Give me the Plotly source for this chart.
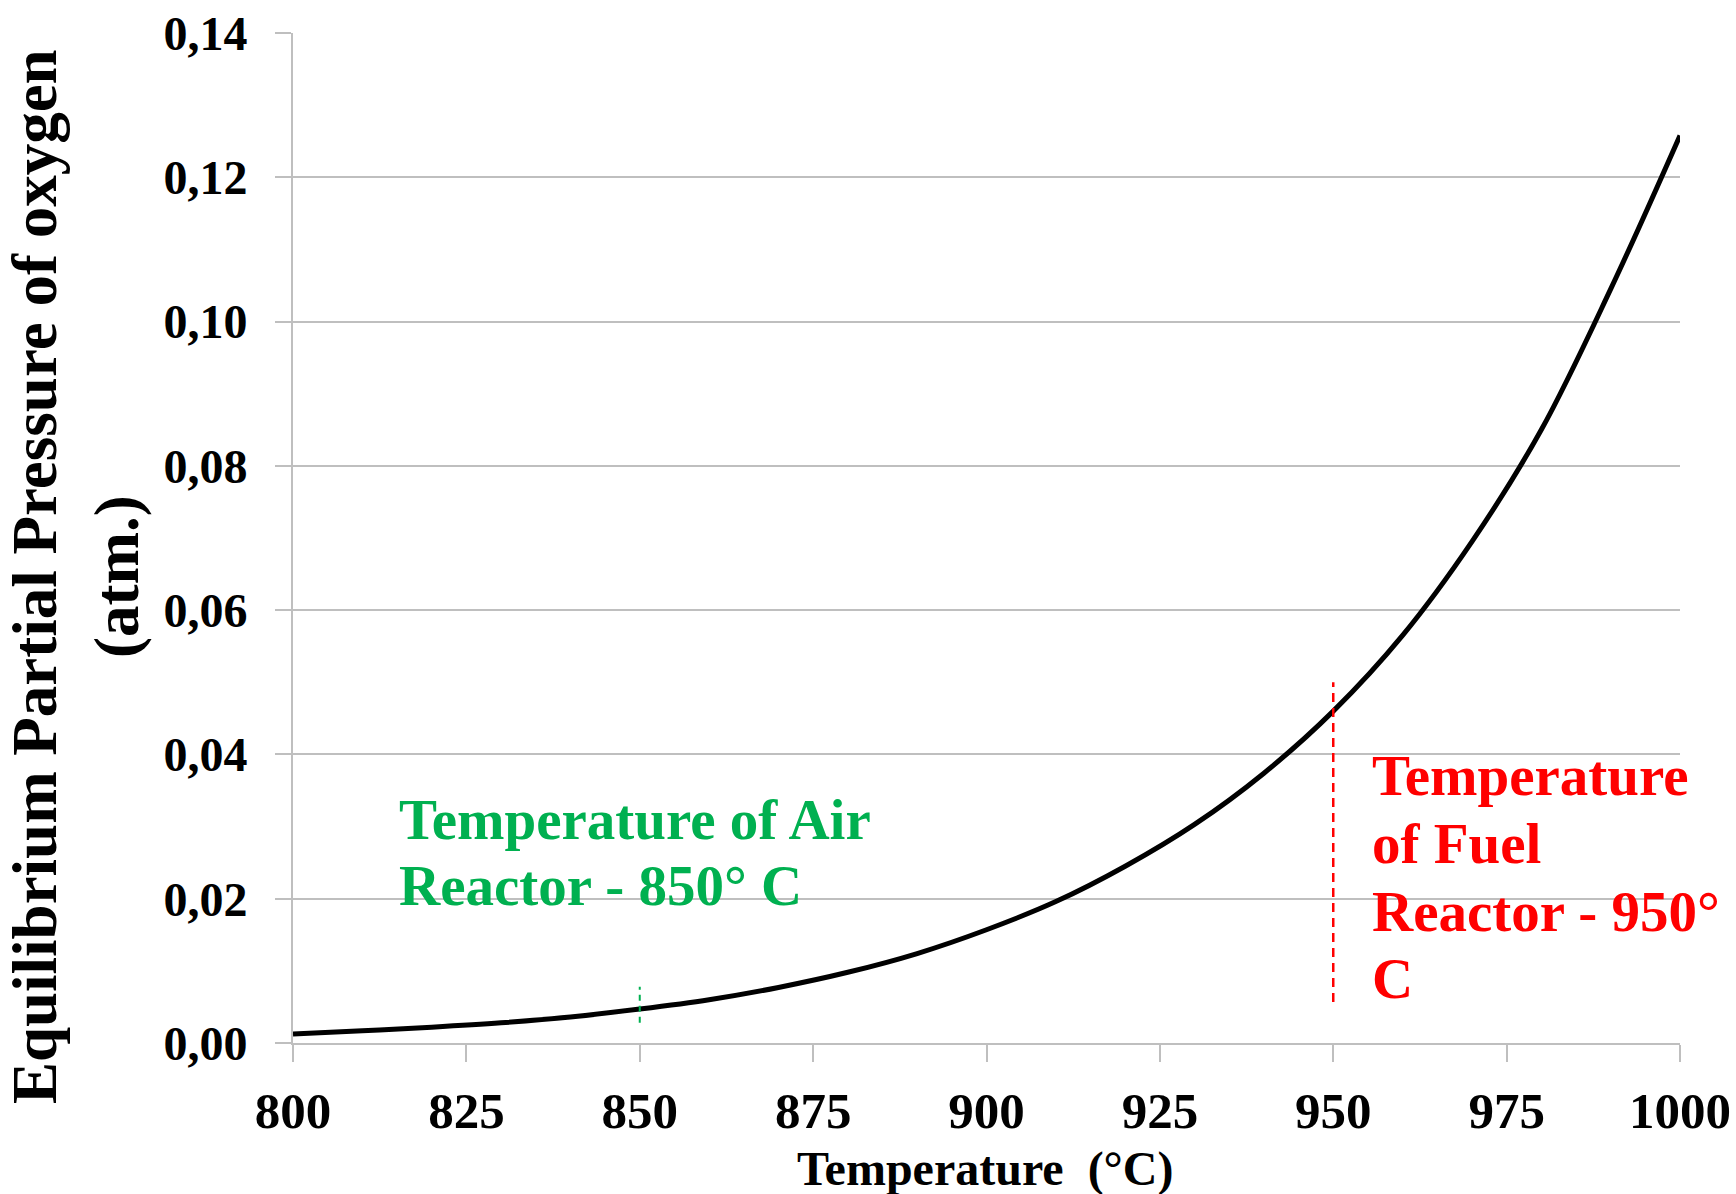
import plotly.graph_objects as go

# Equilibrium O2 partial pressure vs temperature
temperature_c = [800, 810, 820, 830, 840, 850, 860, 870, 880, 890, 900,
                 910, 920, 930, 940, 950, 960, 970, 980, 990, 1000]
p_o2_atm = [0.00125, 0.0017, 0.0022, 0.0028, 0.0036, 0.0047, 0.0060, 0.0077,
            0.0098, 0.0124, 0.0157, 0.0196, 0.0245, 0.0303, 0.0374, 0.0460,
            0.0565, 0.0695, 0.0850, 0.1045, 0.1258]

# Reactor temperature markers
air_reactor_t = 850
air_marker_range = [0.0028, 0.0078]
fuel_reactor_t = 950
fuel_marker_range = [0.0057, 0.0500]

# Label lines and their vertical positions (data units)
air_label_lines = ["Temperature of Air", "Reactor - 850° C"]
air_label_y = [0.0310, 0.0218]
fuel_label_lines = ["Temperature", "of Fuel", "Reactor - 950°", "C"]
fuel_label_y = [0.0371, 0.0276, 0.0182, 0.0089]

y_ticks = [0.0, 0.02, 0.04, 0.06, 0.08, 0.10, 0.12, 0.14]
y_tick_text = ["0,00", "0,02", "0,04", "0,06", "0,08", "0,10", "0,12", "0,14"]
x_ticks = [800, 825, 850, 875, 900, 925, 950, 975, 1000]

FONT = "Liberation Serif"
GRID = "#BFBFBF"
GREEN = "#00B050"
RED = "#FF0000"

fig = go.Figure()

fig.add_trace(go.Scatter(
    x=temperature_c, y=p_o2_atm, mode="lines",
    line=dict(color="black", width=5, shape="spline"),
    showlegend=False, hoverinfo="skip"))

fig.add_trace(go.Scatter(
    x=[air_reactor_t, air_reactor_t], y=air_marker_range, mode="lines",
    line=dict(color=GREEN, width=2, dash="6px,5px"),
    showlegend=False, hoverinfo="skip"))

fig.add_trace(go.Scatter(
    x=[fuel_reactor_t, fuel_reactor_t], y=fuel_marker_range, mode="lines",
    line=dict(color=RED, width=2.5, dash="9px,6px"),
    showlegend=False, hoverinfo="skip"))

for txt, yy in zip(air_label_lines, air_label_y):
    fig.add_annotation(
        x=815, y=yy, xref="x", yref="y", xanchor="left", yanchor="middle",
        text=txt, showarrow=False, align="left",
        font=dict(family=FONT, size=57, color=GREEN, weight="bold"))

for txt, yy in zip(fuel_label_lines, fuel_label_y):
    fig.add_annotation(
        x=955.3, y=yy, xref="x", yref="y", xanchor="left", yanchor="middle",
        text=txt, showarrow=False, align="left",
        font=dict(family=FONT, size=57, color=RED, weight="bold"))

# Axis titles
fig.add_annotation(
    x=-0.156, y=0.462, xref="paper", yref="paper", xanchor="center", yanchor="middle",
    text="Equilibrium Partial Pressure of oxygen<br>(atm.)", textangle=-90,
    showarrow=False, align="center",
    font=dict(family=FONT, size=63, color="black", weight="bold"))

fig.add_annotation(
    x=0.499, y=-0.125, xref="paper", yref="paper", xanchor="center", yanchor="middle",
    text="Temperature  (°C)", showarrow=False,
    font=dict(family=FONT, size=48, color="black", weight="bold"))

fig.update_layout(
    width=1736, height=1194,
    margin=dict(l=293, r=56, t=33, b=151, autoexpand=False),
    paper_bgcolor="white", plot_bgcolor="white",
    font=dict(family=FONT, color="black"),
    xaxis=dict(
        range=[800, 1000], tickvals=x_ticks, ticks="outside", ticklen=17,
        tickcolor=GRID, tickwidth=2, showline=True, linecolor=GRID, linewidth=2,
        showgrid=False, zeroline=False, ticklabelstandoff=5, automargin=False,
        tickfont=dict(family=FONT, size=51, color="black", weight="bold")),
    yaxis=dict(
        range=[0, 0.14], tickvals=y_ticks, ticktext=y_tick_text, ticks="outside",
        ticklen=16, tickcolor=GRID, tickwidth=2, showline=True, linecolor=GRID,
        linewidth=2, showgrid=True, gridcolor=GRID, gridwidth=2, zeroline=False,
        ticklabelstandoff=18, automargin=False,
        tickfont=dict(family=FONT, size=48, color="black", weight="bold")),
)

fig.write_html("out.html")
